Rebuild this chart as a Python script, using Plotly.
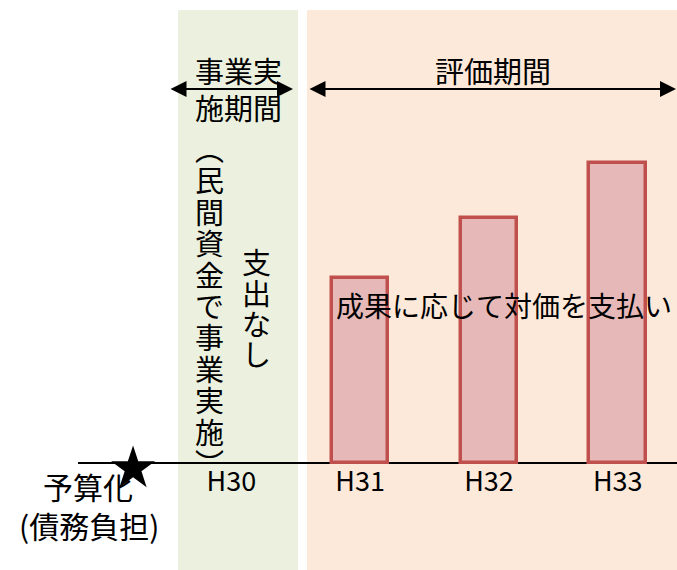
import plotly.graph_objects as go

# ---- data ----
categories = ["H30", "H31", "H32", "H33"]
payments = [0, 3.7, 4.9, 6.0]          # payment (illustrative), H30 = no payment
period_impl = "事業実施期間"
period_eval = "評価期間"
note_private = "︵民間資金で事業実施︶"
note_nopay = "支出なし"
note_pay = "成果に応じて対価を支払い"
label_budget = "予算化"
label_debt = "(債務負担)"

# ---- geometry helpers ----
W, H = 677, 570
BASE = 463         # pixel row of the baseline (y = 0)
PLOT_BOTTOM = 475  # pixel row of the bottom of the plot area
FONT = "Noto Sans CJK JP"
PX_PER_UNIT = 50.0


def px(x):
    return x / W


def py(y):
    return (PLOT_BOTTOM - y) / PLOT_BOTTOM


fig = go.Figure()

fig.add_trace(go.Bar(
    x=list(range(len(categories))),
    y=[v if v > 0 else None for v in payments],
    width=0.44,
    marker=dict(color="#E6B8B7", line=dict(color="#C0504D", width=3.5)),
    cliponaxis=False,
    hoverinfo="skip",
))

STAR_X, STAR_Y = -0.763, -0.11
fig.add_trace(go.Scatter(
    x=[STAR_X], y=[STAR_Y], mode="markers",
    marker=dict(symbol="star", size=33, color="black", line=dict(width=0)),
    cliponaxis=False, hoverinfo="skip",
))

shapes = [
    dict(type="rect", xref="paper", yref="paper", x0=px(178), x1=px(298),
         y0=py(570), y1=py(10), fillcolor="#EBF1DE", line=dict(width=0), layer="below"),
    dict(type="rect", xref="paper", yref="paper", x0=px(307), x1=1,
         y0=py(570), y1=py(10), fillcolor="#FDE9D9", line=dict(width=0), layer="below"),
    dict(type="line", xref="paper", yref="paper", x0=px(78), x1=1,
         y0=py(BASE), y1=py(BASE), line=dict(color="black", width=2), layer="below"),
]

ann = []


def text(t, x, y, size=29, yanchor="middle"):
    ann.append(dict(xref="paper", yref="paper", x=px(x), y=py(y), text=t,
                    showarrow=False, xanchor="center", yanchor=yanchor,
                    font=dict(family=FONT, size=size, color="black")))


def vtext(t, x, y_center, step, glyph):
    # vertical writing: one character per line; line step set by base font size
    base = step / 1.3
    body = "<br>".join('<span style="font-size:%dpx">%s</span>' % (glyph, c) for c in t)
    text(body, x, y_center, size=base)


def arrow(x0, x1, y):
    ann.append(dict(xref="paper", yref="paper", x=px(x1), y=py(y),
                    axref="pixel", ayref="pixel", ax=x0 - x1, ay=0, text="",
                    showarrow=True, arrowside="end+start", arrowhead=2,
                    arrowsize=1.6, arrowwidth=2, arrowcolor="black"))


arrow(169, 293, 89)
arrow(308, 676, 89)
text(period_impl[:3], 238, 70)
text(period_impl[3:], 238, 107)
text(period_eval, 493, 70)

vtext(note_private, 209, 148 + 31.4 * 5, 31.4, 29)
vtext(note_nopay, 256, 261 + 30.8 * 1.5, 30.8, 29)

text(note_pay, 504, 305, size=28)
text(label_budget, 88, 486, size=30)
text(label_debt, 89, 525, size=30)

fig.update_layout(
    width=W, height=H,
    margin=dict(l=0, r=0, t=0, b=H - PLOT_BOTTOM, pad=0),
    paper_bgcolor="white", plot_bgcolor="rgba(0,0,0,0)",
    showlegend=False,
    shapes=shapes, annotations=ann,
    xaxis=dict(range=[-1.796, 3.460], tickvals=list(range(len(categories))),
               ticktext=categories, showgrid=False, zeroline=False, showline=False,
               ticks="", tickfont=dict(family=FONT, size=27, color="black"),
               anchor="free", position=(PLOT_BOTTOM - BASE) / PLOT_BOTTOM,
               fixedrange=True),
    yaxis=dict(range=[-(PLOT_BOTTOM - BASE) / PX_PER_UNIT, BASE / PX_PER_UNIT],
               visible=False, fixedrange=True),
    bargap=0,
)

fig.write_html("out.html", config={"displayModeBar": False})
